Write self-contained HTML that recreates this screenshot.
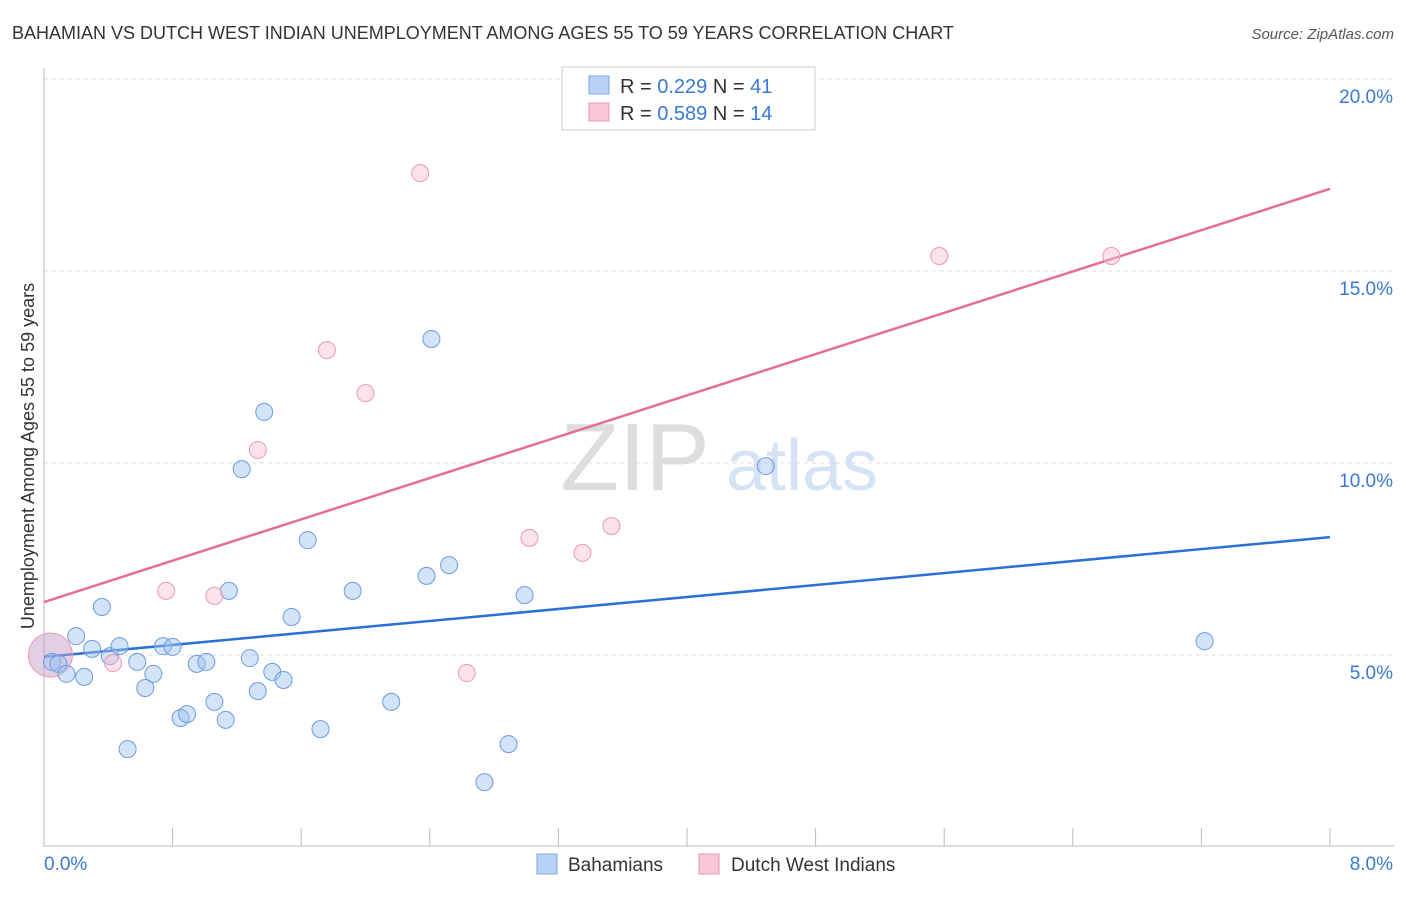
<!DOCTYPE html>
<html><head><meta charset="utf-8"><style>
body{margin:0;background:#fff;font-family:"Liberation Sans",sans-serif;}
svg text{font-family:"Liberation Sans",sans-serif;}
</style></head><body>
<svg id="chart" width="1406" height="892" xmlns="http://www.w3.org/2000/svg">
<text x="12" y="39" font-size="18" fill="#333">BAHAMIAN VS DUTCH WEST INDIAN UNEMPLOYMENT AMONG AGES 55 TO 59 YEARS CORRELATION CHART</text>
<text x="1394" y="39" font-size="15" fill="#555" text-anchor="end" font-style="italic">Source: ZipAtlas.com</text>
<g id="grid"></g>
<g>
<text x="635" y="490" font-size="96" fill="#ddd" font-family="Liberation Serif" text-anchor="middle">ZIP</text>
<text x="802" y="490" font-size="72" fill="#d5e3f5" text-anchor="middle">atlas</text>
</g>
<g id="lines"></g>
<g id="points"></g>
<text transform="translate(34,456) rotate(-90)" font-size="18" fill="#333" text-anchor="middle">Unemployment Among Ages 55 to 59 years</text>
<g>
<rect x="562" y="67" width="253" height="63" fill="#fff" stroke="#ccc"/>
<rect x="589" y="76" width="20" height="18" fill="#b9d2f5" stroke="#7fa7e0"/>
<rect x="589" y="103" width="20" height="18" fill="#f9c7d5" stroke="#e99ab1"/>
<text x="620" y="93" font-size="20" fill="#333">R = <tspan fill="#3a78d8">0.229</tspan>   N = <tspan fill="#3a78d8">41</tspan></text>
<text x="620" y="120" font-size="20" fill="#333">R = <tspan fill="#3a78d8">0.589</tspan>   N = <tspan fill="#3a78d8">14</tspan></text>
</g>
<g>
<rect x="537" y="854" width="20" height="20" fill="#b9d2f5" stroke="#7fa7e0"/>
<text x="568" y="871" font-size="19" fill="#333">Bahamians</text>
<rect x="699" y="854" width="20" height="20" fill="#f9c7d5" stroke="#e99ab1"/>
<text x="731" y="871" font-size="19" fill="#333">Dutch West Indians</text>
</g>
</svg>
<script>
const yTicks=[5,10,15,20];
const yTickLabels=["5.0%","10.0%","15.0%","20.0%"];
const xTickCount=10;
const blueX=[0.05,0.09,0.14,0.20,0.25,0.30,0.36,0.41,0.47,0.52,0.58,0.63,0.68,0.74,0.80,0.85,0.89,0.95,1.01,1.06,1.13,1.15,1.23,1.28,1.33,1.37,1.42,1.49,1.54,1.64,1.72,1.92,2.16,2.38,2.41,2.52,2.89,2.74,2.99,4.49,7.22];
const blueY=[4.82,4.77,4.51,5.49,4.43,5.16,6.25,4.97,5.23,2.55,4.82,4.14,4.51,5.23,5.21,3.36,3.46,4.77,4.82,3.78,3.31,6.67,9.84,4.92,4.06,11.33,4.56,4.35,5.99,7.99,3.07,6.67,3.78,7.06,13.23,7.34,2.68,1.69,6.56,9.92,5.36];
const pinkX=[0.04,0.43,0.76,1.06,1.33,1.76,2.00,2.34,2.63,3.02,3.35,3.53,5.57,6.64];
const pinkY=[5.0,4.79,6.67,6.54,10.34,12.94,11.82,17.55,4.53,8.05,7.66,8.36,15.39,15.39];
const blueLine=[[0,4.95],[8,8.07]];
const pinkLine=[[0,6.38],[8,17.14]];
const NS="http://www.w3.org/2000/svg";
const X=v=>44+v*160.75, Y=v=>847-v*38.4;
function mk(t,a,p){const e=document.createElementNS(NS,t);for(const k in a)e.setAttribute(k,a[k]);p.appendChild(e);return e;}
const grid=document.getElementById('grid');
yTicks.forEach((t,i)=>{
 const l=mk('line',{x1:44,x2:1394,y1:Y(t),y2:Y(t),stroke:'#ddd','stroke-dasharray':'4,4'},grid);
 
 
 const tx=mk('text',{x:1393,y:Y(t)+24,'font-size':19,fill:'#3a78d8','text-anchor':'end'},grid);
 tx.textContent=yTickLabels[i];
 
 
});
const ax=mk('line',{x1:44,x2:44,y1:68,y2:847,stroke:'#bbb'},grid);


const bx=mk('line',{x1:44,x2:1394,y1:846,y2:846,stroke:'#bbb'},grid);


for(let i=0;i<=xTickCount;i++){
 const v=i*0.8;
 const t=mk('line',{x1:X(v),x2:X(v),y1:828,y2:846,stroke:'#bbb'},grid);
 
 
}
[["0.0%",44,'start'],["8.0%",1393,'end']].forEach(([s,x,a])=>{
 const t=mk('text',{x:x,y:870,'font-size':19,fill:'#3a78d8','text-anchor':a},grid);t.textContent=s;
 
 
});
const lines=document.getElementById('lines');
const pts=document.getElementById('points');
const big=mk('circle',{cx:X(pinkX[0]),cy:Y(pinkY[0]),r:22,fill:'rgba(200,160,200,0.5)',stroke:'#e99ab1','stroke-width':1},pts);


blueX.forEach((x,i)=>{
 const c=mk('circle',{cx:X(x),cy:Y(blueY[i]),r:8.5,fill:'rgba(160,195,240,0.45)',stroke:'#6d9be0','stroke-width':1},pts);
 
 
});
pinkX.forEach((x,i)=>{
 if(i===0)return;
 const c=mk('circle',{cx:X(x),cy:Y(pinkY[i]),r:8.5,fill:'rgba(248,190,208,0.45)',stroke:'#e99ab1','stroke-width':1},pts);
 
 
});
const bl=mk('line',{x1:X(blueLine[0][0]),y1:Y(blueLine[0][1]),x2:X(blueLine[1][0]),y2:Y(blueLine[1][1]),stroke:'#2a70d6','stroke-width':2.5},lines);


const pl=mk('line',{x1:X(pinkLine[0][0]),y1:Y(pinkLine[0][1]),x2:X(pinkLine[1][0]),y2:Y(pinkLine[1][1]),stroke:'#e56d97','stroke-width':2.5},lines);


</script>
</body></html>
